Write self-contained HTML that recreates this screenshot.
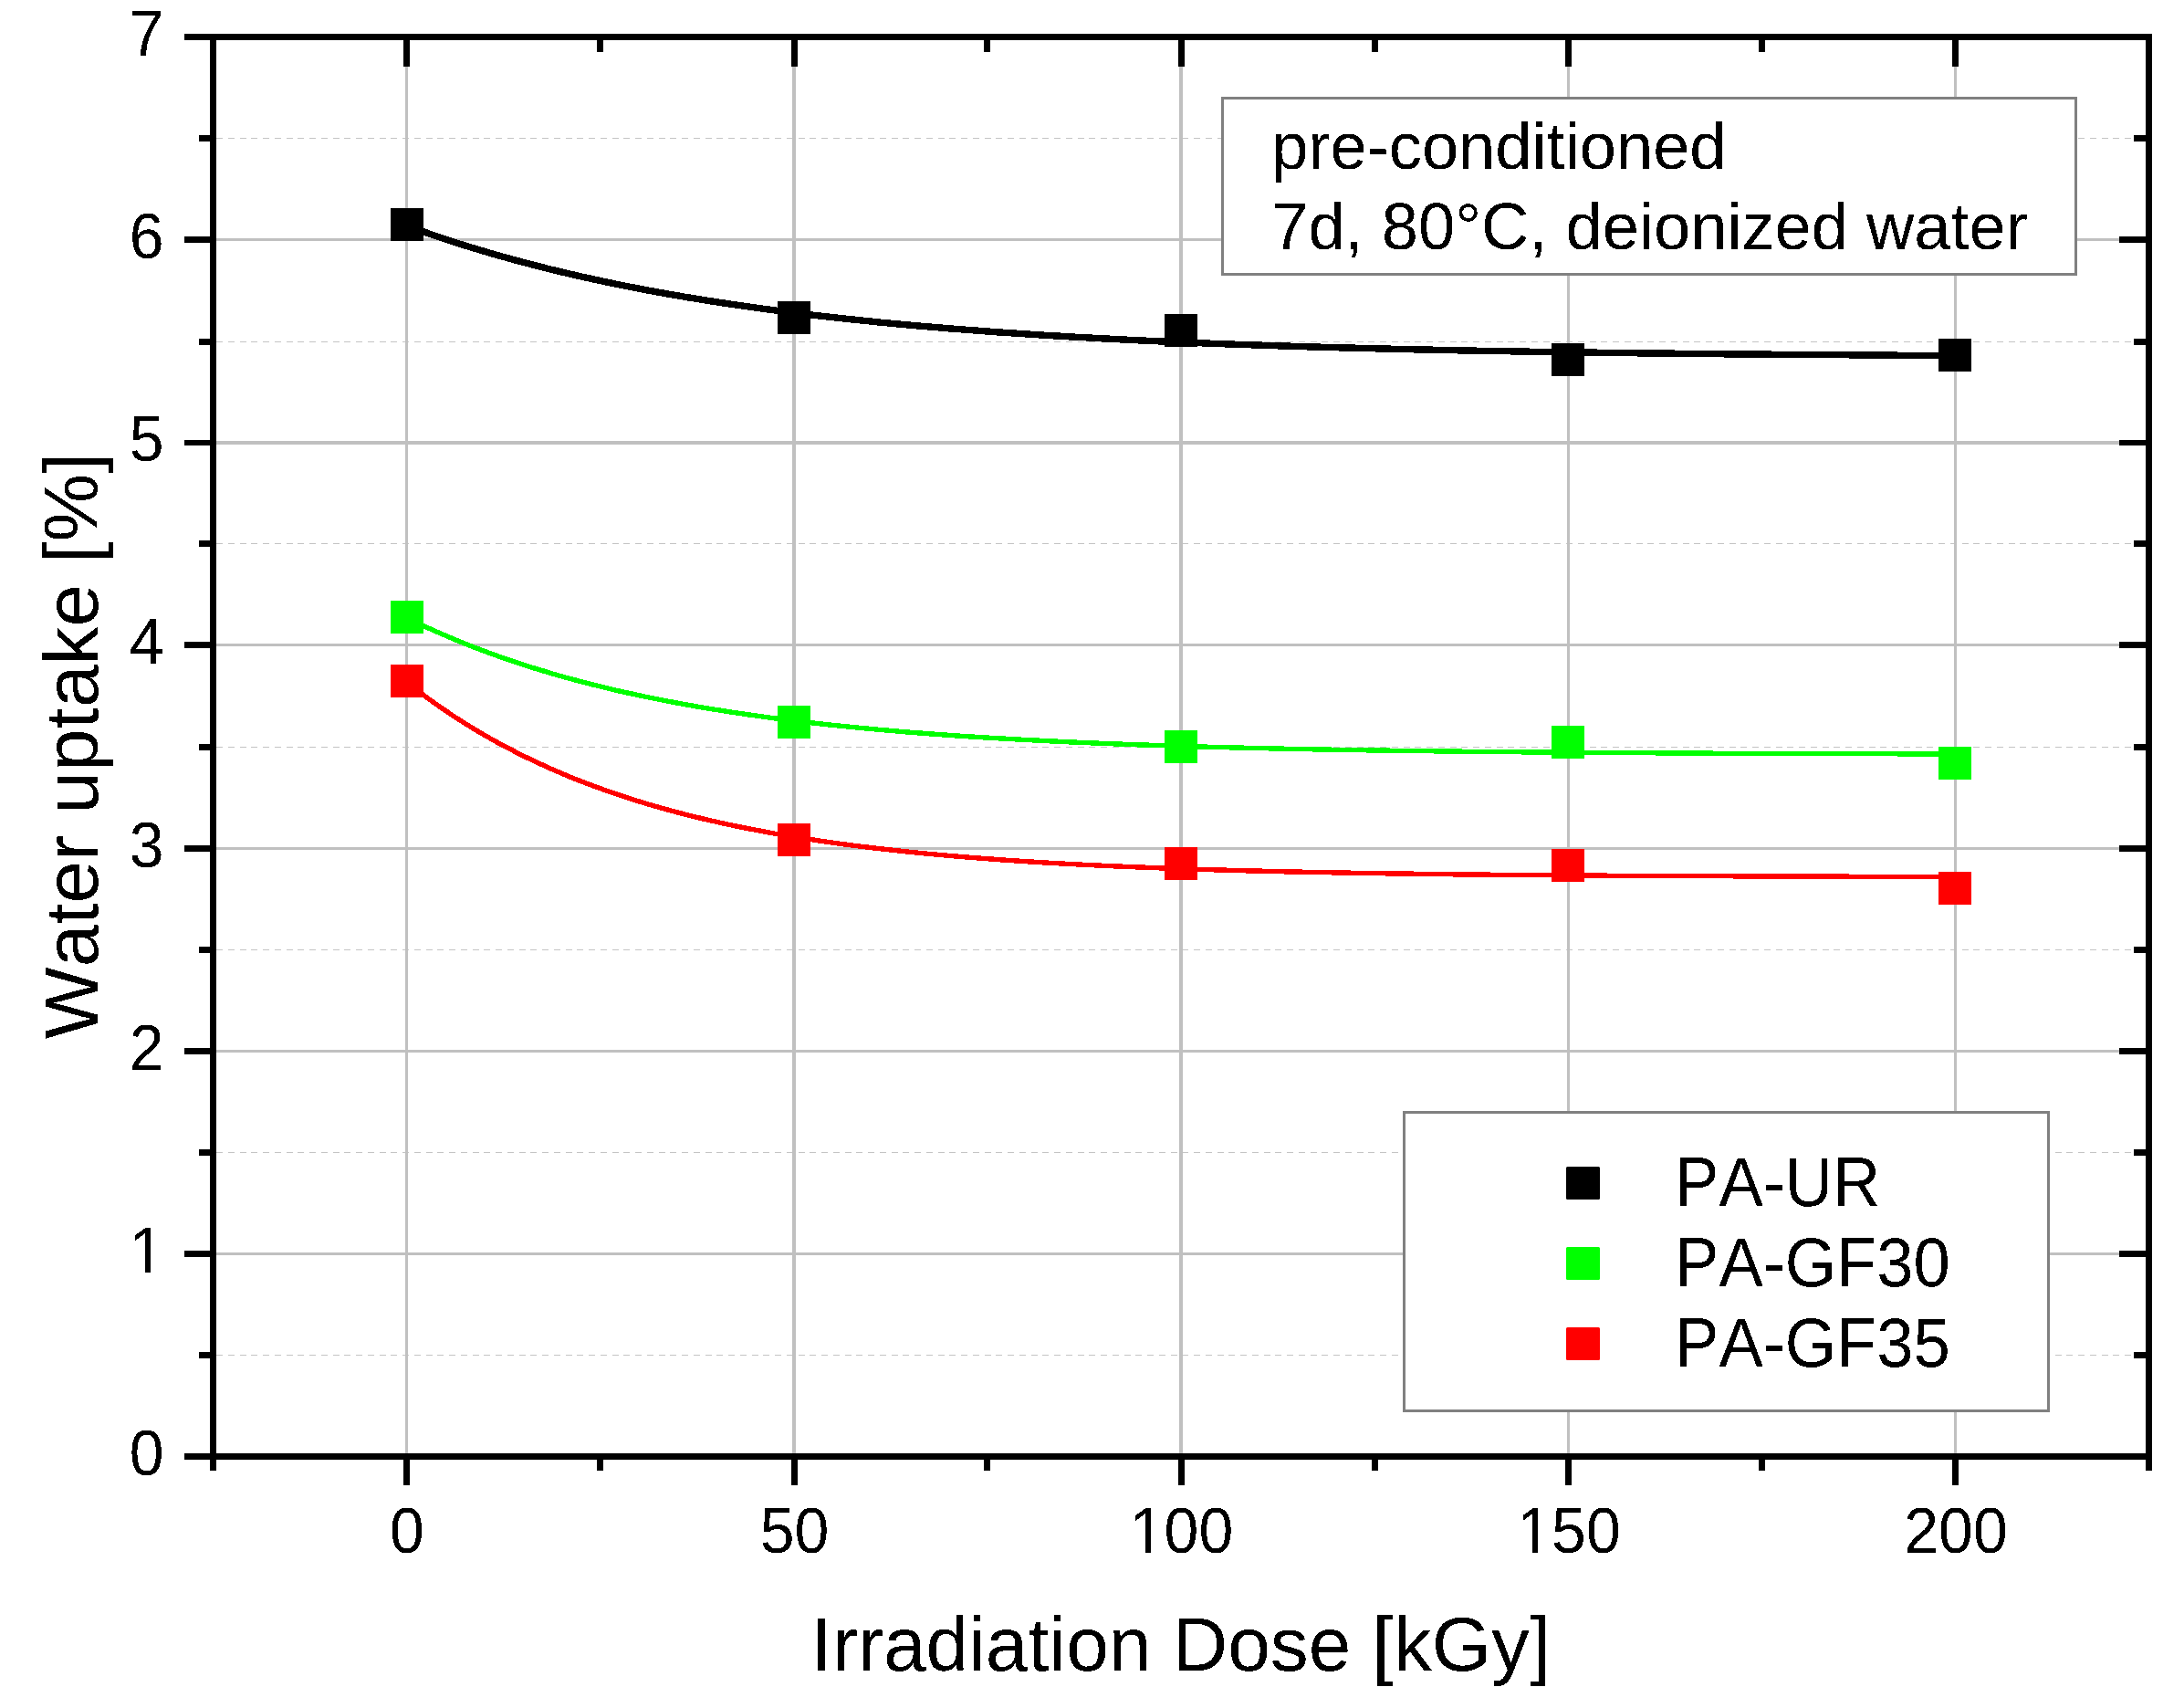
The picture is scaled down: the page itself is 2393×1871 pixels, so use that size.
<!DOCTYPE html>
<html lang="en"><head><meta charset="utf-8"><title>Water uptake vs. irradiation dose</title>
<style>html,body{margin:0;padding:0;background:#fff}body{width:2393px;height:1871px;overflow:hidden}</style>
</head><body>
<svg width="2393" height="1871" viewBox="0 0 2393 1871" style="display:block">
<defs><filter id="bw" x="0" y="0" width="100%" height="100%" filterUnits="userSpaceOnUse" primitiveUnits="userSpaceOnUse" color-interpolation-filters="sRGB"><feComponentTransfer><feFuncA type="discrete" tableValues="0 1"/></feComponentTransfer></filter></defs>
<rect width="2393" height="1871" fill="#fff"/>
<g stroke="#c4c4c4" stroke-width="1" stroke-dasharray="7 5.75" shape-rendering="crispEdges">
<line x1="237" y1="1484.5" x2="2351" y2="1484.5"/>
<line x1="237" y1="1262.5" x2="2351" y2="1262.5"/>
<line x1="237" y1="1040.5" x2="2351" y2="1040.5"/>
<line x1="237" y1="818.5" x2="2351" y2="818.5"/>
<line x1="237" y1="595.5" x2="2351" y2="595.5"/>
<line x1="237" y1="374.5" x2="2351" y2="374.5"/>
<line x1="237" y1="151.5" x2="2351" y2="151.5"/>
</g>
<g fill="#c0c0c0" shape-rendering="crispEdges">
<rect x="237" y="1372.0" width="2114" height="3"/>
<rect x="237" y="1150.0" width="2114" height="3"/>
<rect x="237" y="928.0" width="2114" height="3"/>
<rect x="237" y="705.0" width="2114" height="3"/>
<rect x="237" y="483" width="2114" height="4"/>
<rect x="237" y="261.0" width="2114" height="3"/>
<rect x="444.0" y="44" width="3" height="1548"/>
<rect x="868.0" y="44" width="4" height="1548"/>
<rect x="1292.0" y="44" width="4" height="1548"/>
<rect x="1717.0" y="44" width="3" height="1548"/>
<rect x="2141.0" y="44" width="3" height="1548"/>
</g>
<polyline fill="none" stroke="#000" stroke-width="7.4" stroke-linejoin="round" shape-rendering="crispEdges" points="445.6,247.2 456.2,251.1 466.8,254.8 477.4,258.5 488.0,262.0 498.6,265.5 509.2,268.9 519.8,272.1 530.4,275.3 541.0,278.4 551.6,281.4 562.3,284.4 572.9,287.2 583.5,290.0 594.1,292.7 604.7,295.4 615.3,297.9 625.9,300.4 636.5,302.9 647.1,305.2 657.7,307.5 668.3,309.8 678.9,312.0 689.5,314.1 700.1,316.1 710.7,318.2 721.3,320.1 731.9,322.0 742.5,323.9 753.1,325.7 763.8,327.4 774.4,329.1 785.0,330.8 795.6,332.4 806.2,334.0 816.8,335.5 827.4,337.0 838.0,338.5 848.6,339.9 859.2,341.3 869.8,342.6 880.4,343.9 891.0,345.2 901.6,346.4 912.2,347.6 922.8,348.8 933.4,349.9 944.0,351.0 954.6,352.1 965.2,353.2 975.9,354.2 986.5,355.2 997.1,356.1 1007.7,357.1 1018.3,358.0 1028.9,358.9 1039.5,359.8 1050.1,360.6 1060.7,361.4 1071.3,362.2 1081.9,363.0 1092.5,363.8 1103.1,364.5 1113.7,365.2 1124.3,365.9 1134.9,366.6 1145.5,367.3 1156.1,367.9 1166.7,368.5 1177.3,369.2 1188.0,369.7 1198.6,370.3 1209.2,370.9 1219.8,371.4 1230.4,372.0 1241.0,372.5 1251.6,373.0 1262.2,373.5 1272.8,374.0 1283.4,374.4 1294.0,374.9 1304.6,375.3 1315.2,375.7 1325.8,376.2 1336.4,376.6 1347.0,377.0 1357.6,377.4 1368.2,377.7 1378.8,378.1 1389.4,378.4 1400.0,378.8 1410.7,379.1 1421.3,379.5 1431.9,379.8 1442.5,380.1 1453.1,380.4 1463.7,380.7 1474.3,381.0 1484.9,381.2 1495.5,381.5 1506.1,381.8 1516.7,382.0 1527.3,382.3 1537.9,382.5 1548.5,382.8 1559.1,383.0 1569.7,383.2 1580.3,383.4 1590.9,383.7 1601.5,383.9 1612.2,384.1 1622.8,384.3 1633.4,384.4 1644.0,384.6 1654.6,384.8 1665.2,385.0 1675.8,385.2 1686.4,385.3 1697.0,385.5 1707.6,385.6 1718.2,385.8 1728.8,385.9 1739.4,386.1 1750.0,386.2 1760.6,386.4 1771.2,386.5 1781.8,386.6 1792.4,386.8 1803.0,386.9 1813.6,387.0 1824.2,387.1 1834.9,387.2 1845.5,387.3 1856.1,387.5 1866.7,387.6 1877.3,387.7 1887.9,387.8 1898.5,387.9 1909.1,387.9 1919.7,388.0 1930.3,388.1 1940.9,388.2 1951.5,388.3 1962.1,388.4 1972.7,388.5 1983.3,388.5 1993.9,388.6 2004.5,388.7 2015.1,388.8 2025.7,388.8 2036.3,388.9 2047.0,389.0 2057.6,389.0 2068.2,389.1 2078.8,389.2 2089.4,389.2 2100.0,389.3 2110.6,389.3 2121.2,389.4 2131.8,389.4 2142.4,389.5"/>
<polyline fill="none" stroke="#0f0" stroke-width="5.4" stroke-linejoin="round" shape-rendering="crispEdges" points="445.6,676.7 456.2,681.8 466.8,686.8 477.4,691.6 488.0,696.2 498.6,700.7 509.2,705.0 519.8,709.2 530.4,713.2 541.0,717.1 551.6,720.9 562.3,724.5 572.9,728.0 583.5,731.4 594.1,734.6 604.7,737.8 615.3,740.9 625.9,743.8 636.5,746.6 647.1,749.4 657.7,752.0 668.3,754.6 678.9,757.1 689.5,759.4 700.1,761.7 710.7,764.0 721.3,766.1 731.9,768.2 742.5,770.2 753.1,772.1 763.8,774.0 774.4,775.8 785.0,777.5 795.6,779.2 806.2,780.8 816.8,782.4 827.4,783.9 838.0,785.4 848.6,786.8 859.2,788.2 869.8,789.5 880.4,790.8 891.0,792.0 901.6,793.2 912.2,794.3 922.8,795.4 933.4,796.5 944.0,797.5 954.6,798.5 965.2,799.5 975.9,800.4 986.5,801.3 997.1,802.2 1007.7,803.0 1018.3,803.8 1028.9,804.6 1039.5,805.3 1050.1,806.1 1060.7,806.8 1071.3,807.4 1081.9,808.1 1092.5,808.7 1103.1,809.3 1113.7,809.9 1124.3,810.5 1134.9,811.0 1145.5,811.6 1156.1,812.1 1166.7,812.6 1177.3,813.1 1188.0,813.5 1198.6,814.0 1209.2,814.4 1219.8,814.8 1230.4,815.2 1241.0,815.6 1251.6,816.0 1262.2,816.3 1272.8,816.7 1283.4,817.0 1294.0,817.3 1304.6,817.7 1315.2,818.0 1325.8,818.3 1336.4,818.5 1347.0,818.8 1357.6,819.1 1368.2,819.3 1378.8,819.6 1389.4,819.8 1400.0,820.0 1410.7,820.3 1421.3,820.5 1431.9,820.7 1442.5,820.9 1453.1,821.1 1463.7,821.3 1474.3,821.4 1484.9,821.6 1495.5,821.8 1506.1,821.9 1516.7,822.1 1527.3,822.3 1537.9,822.4 1548.5,822.5 1559.1,822.7 1569.7,822.8 1580.3,822.9 1590.9,823.1 1601.5,823.2 1612.2,823.3 1622.8,823.4 1633.4,823.5 1644.0,823.6 1654.6,823.7 1665.2,823.8 1675.8,823.9 1686.4,824.0 1697.0,824.1 1707.6,824.1 1718.2,824.2 1728.8,824.3 1739.4,824.4 1750.0,824.5 1760.6,824.5 1771.2,824.6 1781.8,824.7 1792.4,824.7 1803.0,824.8 1813.6,824.8 1824.2,824.9 1834.9,824.9 1845.5,825.0 1856.1,825.1 1866.7,825.1 1877.3,825.2 1887.9,825.2 1898.5,825.2 1909.1,825.3 1919.7,825.3 1930.3,825.4 1940.9,825.4 1951.5,825.4 1962.1,825.5 1972.7,825.5 1983.3,825.5 1993.9,825.6 2004.5,825.6 2015.1,825.6 2025.7,825.7 2036.3,825.7 2047.0,825.7 2057.6,825.7 2068.2,825.8 2078.8,825.8 2089.4,825.8 2100.0,825.8 2110.6,825.9 2121.2,825.9 2131.8,825.9 2142.4,825.9"/>
<polyline fill="none" stroke="#f00" stroke-width="5.4" stroke-linejoin="round" shape-rendering="crispEdges" points="445.6,747.3 456.2,755.5 466.8,763.5 477.4,771.1 488.0,778.4 498.6,785.5 509.2,792.3 519.8,798.8 530.4,805.0 541.0,811.1 551.6,816.8 562.3,822.4 572.9,827.8 583.5,832.9 594.1,837.8 604.7,842.6 615.3,847.2 625.9,851.6 636.5,855.8 647.1,859.8 657.7,863.7 668.3,867.5 678.9,871.1 689.5,874.6 700.1,877.9 710.7,881.1 721.3,884.2 731.9,887.1 742.5,890.0 753.1,892.7 763.8,895.4 774.4,897.9 785.0,900.3 795.6,902.7 806.2,904.9 816.8,907.1 827.4,909.1 838.0,911.1 848.6,913.1 859.2,914.9 869.8,916.7 880.4,918.4 891.0,920.0 901.6,921.6 912.2,923.1 922.8,924.6 933.4,926.0 944.0,927.3 954.6,928.6 965.2,929.8 975.9,931.0 986.5,932.2 997.1,933.3 1007.7,934.4 1018.3,935.4 1028.9,936.4 1039.5,937.3 1050.1,938.2 1060.7,939.1 1071.3,939.9 1081.9,940.7 1092.5,941.5 1103.1,942.3 1113.7,943.0 1124.3,943.7 1134.9,944.3 1145.5,945.0 1156.1,945.6 1166.7,946.2 1177.3,946.7 1188.0,947.3 1198.6,947.8 1209.2,948.3 1219.8,948.8 1230.4,949.2 1241.0,949.7 1251.6,950.1 1262.2,950.5 1272.8,950.9 1283.4,951.3 1294.0,951.7 1304.6,952.0 1315.2,952.4 1325.8,952.7 1336.4,953.0 1347.0,953.3 1357.6,953.6 1368.2,953.9 1378.8,954.1 1389.4,954.4 1400.0,954.6 1410.7,954.9 1421.3,955.1 1431.9,955.3 1442.5,955.5 1453.1,955.7 1463.7,955.9 1474.3,956.1 1484.9,956.3 1495.5,956.5 1506.1,956.6 1516.7,956.8 1527.3,956.9 1537.9,957.1 1548.5,957.2 1559.1,957.4 1569.7,957.5 1580.3,957.6 1590.9,957.8 1601.5,957.9 1612.2,958.0 1622.8,958.1 1633.4,958.2 1644.0,958.3 1654.6,958.4 1665.2,958.5 1675.8,958.6 1686.4,958.7 1697.0,958.7 1707.6,958.8 1718.2,958.9 1728.8,959.0 1739.4,959.0 1750.0,959.1 1760.6,959.2 1771.2,959.2 1781.8,959.3 1792.4,959.3 1803.0,959.4 1813.6,959.5 1824.2,959.5 1834.9,959.6 1845.5,959.6 1856.1,959.6 1866.7,959.7 1877.3,959.7 1887.9,959.8 1898.5,959.8 1909.1,959.8 1919.7,959.9 1930.3,959.9 1940.9,959.9 1951.5,960.0 1962.1,960.0 1972.7,960.0 1983.3,960.1 1993.9,960.1 2004.5,960.1 2015.1,960.1 2025.7,960.2 2036.3,960.2 2047.0,960.2 2057.6,960.2 2068.2,960.3 2078.8,960.3 2089.4,960.3 2100.0,960.3 2110.6,960.3 2121.2,960.4 2131.8,960.4 2142.4,960.4"/>
<rect x="428" y="228" width="36" height="36" fill="#000" shape-rendering="crispEdges"/>
<rect x="852" y="330" width="36" height="36" fill="#000" shape-rendering="crispEdges"/>
<rect x="1276" y="344" width="36" height="36" fill="#000" shape-rendering="crispEdges"/>
<rect x="1700" y="376" width="36" height="36" fill="#000" shape-rendering="crispEdges"/>
<rect x="2124" y="371" width="36" height="36" fill="#000" shape-rendering="crispEdges"/>
<rect x="428" y="658" width="36" height="36" fill="#0f0" shape-rendering="crispEdges"/>
<rect x="852" y="773" width="36" height="36" fill="#0f0" shape-rendering="crispEdges"/>
<rect x="1276" y="800" width="36" height="36" fill="#0f0" shape-rendering="crispEdges"/>
<rect x="1700" y="795" width="36" height="36" fill="#0f0" shape-rendering="crispEdges"/>
<rect x="2124" y="818" width="36" height="36" fill="#0f0" shape-rendering="crispEdges"/>
<rect x="428" y="728" width="36" height="36" fill="#f00" shape-rendering="crispEdges"/>
<rect x="852" y="902" width="36" height="36" fill="#f00" shape-rendering="crispEdges"/>
<rect x="1276" y="928" width="36" height="36" fill="#f00" shape-rendering="crispEdges"/>
<rect x="1700" y="930" width="36" height="36" fill="#f00" shape-rendering="crispEdges"/>
<rect x="2124" y="955" width="36" height="36" fill="#f00" shape-rendering="crispEdges"/>
<g shape-rendering="crispEdges">
<rect x="1339.5" y="107.5" width="935" height="192.5" fill="#fff" stroke="#808080" stroke-width="3"/>
<rect x="1338" y="301" width="938" height="1" fill="#808080"/>
<rect x="1538.5" y="1218.5" width="706" height="327" fill="#fff" stroke="#808080" stroke-width="3"/>
</g>
<g fill="#000" shape-rendering="crispEdges">
<rect x="202" y="37" width="2156" height="7"/>
<rect x="202" y="1592" width="2156" height="7"/>
<rect x="230" y="37" width="7" height="1574"/>
<rect x="2351" y="37" width="7" height="1574"/>
<rect x="202" y="1370.0" width="30" height="7"/>
<rect x="2322" y="1370.0" width="30" height="7"/>
<rect x="202" y="1148.0" width="30" height="7"/>
<rect x="2322" y="1148.0" width="30" height="7"/>
<rect x="202" y="926.0" width="30" height="7"/>
<rect x="2322" y="926.0" width="30" height="7"/>
<rect x="202" y="703.0" width="30" height="7"/>
<rect x="2322" y="703.0" width="30" height="7"/>
<rect x="202" y="482" width="30" height="6"/>
<rect x="2322" y="482" width="30" height="6"/>
<rect x="202" y="259.0" width="30" height="7"/>
<rect x="2322" y="259.0" width="30" height="7"/>
<rect x="218" y="1481.0" width="14" height="7"/>
<rect x="2338" y="1481.0" width="14" height="7"/>
<rect x="218" y="1259.0" width="14" height="7"/>
<rect x="2338" y="1259.0" width="14" height="7"/>
<rect x="218" y="1037.0" width="14" height="7"/>
<rect x="2338" y="1037.0" width="14" height="7"/>
<rect x="218" y="815.0" width="14" height="7"/>
<rect x="2338" y="815.0" width="14" height="7"/>
<rect x="218" y="592.0" width="14" height="7"/>
<rect x="2338" y="592.0" width="14" height="7"/>
<rect x="218" y="371.0" width="14" height="7"/>
<rect x="2338" y="371.0" width="14" height="7"/>
<rect x="218" y="148.0" width="14" height="7"/>
<rect x="2338" y="148.0" width="14" height="7"/>
<rect x="442" y="42" width="7" height="31"/>
<rect x="442" y="1597" width="7" height="30"/>
<rect x="867" y="42" width="7" height="31"/>
<rect x="867" y="1597" width="7" height="30"/>
<rect x="1291" y="42" width="7" height="31"/>
<rect x="1291" y="1597" width="7" height="30"/>
<rect x="1715" y="42" width="7" height="31"/>
<rect x="1715" y="1597" width="7" height="30"/>
<rect x="2139" y="42" width="7" height="31"/>
<rect x="2139" y="1597" width="7" height="30"/>
<rect x="654" y="42" width="7" height="15"/>
<rect x="654" y="1597" width="7" height="14"/>
<rect x="1078" y="42" width="7" height="15"/>
<rect x="1078" y="1597" width="7" height="14"/>
<rect x="1503" y="42" width="7" height="15"/>
<rect x="1503" y="1597" width="7" height="14"/>
<rect x="1927" y="42" width="7" height="15"/>
<rect x="1927" y="1597" width="7" height="14"/>
</g>
<g font-family="'Liberation Sans', Arial, sans-serif" fill="#000" style="font-kerning:none" filter="url(#bw)">
<text transform="translate(179.5,1615.9) scale(1,1.0412)" font-size="68" text-anchor="end">0</text>
<text transform="translate(179.5,1393.9) scale(1,1.0412)" font-size="68" text-anchor="end">1</text>
<text transform="translate(179.5,1171.9) scale(1,1.0412)" font-size="68" text-anchor="end">2</text>
<text transform="translate(179.5,949.9) scale(1,1.0412)" font-size="68" text-anchor="end">3</text>
<text transform="translate(179.5,726.9) scale(1,1.0412)" font-size="68" text-anchor="end">4</text>
<text transform="translate(179.5,505.4) scale(1,1.0412)" font-size="68" text-anchor="end">5</text>
<text transform="translate(179.5,282.9) scale(1,1.0412)" font-size="68" text-anchor="end">6</text>
<text transform="translate(179.5,60.9) scale(1,1.0412)" font-size="68" text-anchor="end">7</text>
<text transform="translate(446.0,1700.8) scale(1,1.0412)" font-size="68" text-anchor="middle">0</text>
<text transform="translate(870.5,1700.8) scale(1,1.0412)" font-size="68" text-anchor="middle">50</text>
<text transform="translate(1294.5,1700.8) scale(1,1.0412)" font-size="68" text-anchor="middle">100</text>
<text transform="translate(1719.0,1700.8) scale(1,1.0412)" font-size="68" text-anchor="middle">150</text>
<text transform="translate(2143.0,1700.8) scale(1,1.0412)" font-size="68" text-anchor="middle">200</text>
<text x="1294.0" y="1829.9" font-size="83.8" text-anchor="middle">Irradiation Dose [kGy]</text>
<text transform="translate(107,817) rotate(-90)" font-size="83.8" text-anchor="middle">Water uptake [%]</text>
<text x="1393.2" y="184.9" font-size="72.3" text-anchor="start">pre-conditioned</text>
<text x="1393.2" y="272.8" font-size="72.3" text-anchor="start">7d, 80°C, deionized water</text>
<text transform="translate(1835.1,1320.8) scale(1,1.0412)" font-size="72.4" text-anchor="start">PA-UR</text>
<text transform="translate(1835.1,1408.8) scale(1,1.0412)" font-size="72.4" text-anchor="start">PA-GF30</text>
<text transform="translate(1835.1,1496.7) scale(1,1.0412)" font-size="72.4" text-anchor="start">PA-GF35</text>
</g>
<rect x="145" y="1388" width="14" height="7" fill="#fff" shape-rendering="crispEdges"/>
<rect x="165" y="1388" width="13" height="7" fill="#fff" shape-rendering="crispEdges"/>
<rect x="1241" y="1695" width="14" height="7" fill="#fff" shape-rendering="crispEdges"/>
<rect x="1261" y="1695" width="13" height="7" fill="#fff" shape-rendering="crispEdges"/>
<rect x="1666" y="1695" width="13" height="7" fill="#fff" shape-rendering="crispEdges"/>
<rect x="1685" y="1695" width="13" height="7" fill="#fff" shape-rendering="crispEdges"/>
<rect x="1716" y="1278" width="37" height="36" rx="1.5" fill="#000"/>
<rect x="1716" y="1366" width="37" height="36" rx="1.5" fill="#0f0"/>
<rect x="1716" y="1454" width="37" height="36" rx="1.5" fill="#f00"/>
</svg>
</body></html>
